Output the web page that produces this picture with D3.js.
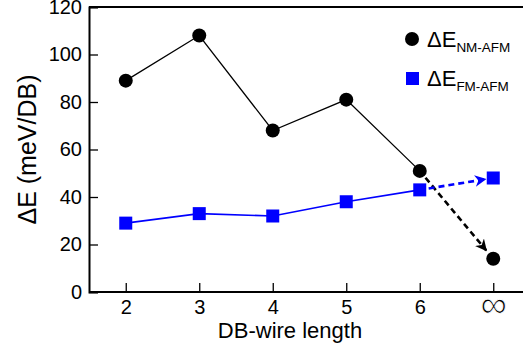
<!DOCTYPE html>
<html><head><meta charset="utf-8">
<script src="https://cdn.jsdelivr.net/npm/d3@7"></script>
<style>body{margin:0;background:#fff}svg{display:block}text{font-family:"Liberation Sans",Arial,sans-serif}</style>
</head><body>
<svg id="c" width="523" height="350"></svg>
<script>
const categories = ["2","3","4","5","6","∞"];
const nmAfm = [89, 108, 68, 81, 51, 14];
const fmAfm = [29, 33, 32, 38, 43, 48];
const yTicks = [0, 20, 40, 60, 80, 100, 120];

const svg = d3.select("#c");
const L = 89, T = 7, B = 292, R = 530;
const x = d3.scaleLinear().domain([-0.5, 5.5]).range([L, L + 6 * 73.5]);
const y = d3.scaleLinear().domain([0, 120]).range([B, T]);

svg.append("line").attr("x1", L).attr("x2", R).attr("y1", T).attr("y2", T).attr("stroke", "#000").attr("stroke-width", 2);

const ya = svg.append("g").attr("transform", `translate(${L},0)`)
  .call(d3.axisLeft(y).tickValues(yTicks).tickSize(-9).tickPadding(7));
ya.select(".domain").attr("stroke-width", 2);
ya.selectAll(".tick line").attr("stroke-width", 1.3);
ya.selectAll("text").attr("font-size", 20).attr("font-family", "Liberation Sans, Arial, sans-serif").attr("fill", "#000");

const xa = svg.append("g").attr("transform", `translate(0,${B})`)
  .call(d3.axisBottom(x).tickValues(d3.range(categories.length)).tickFormat(i => categories[i]).tickSize(-9).tickPadding(8));
xa.select(".domain").attr("d", `M${L},0H${R}`).attr("stroke-width", 2);
xa.selectAll(".tick line").attr("stroke-width", 1.3);
xa.selectAll("text").attr("font-size", 20).attr("font-family", "Liberation Sans, Arial, sans-serif").attr("fill", "#000");
xa.selectAll(".tick").filter(d => d === 5).select("text")
  .attr("font-family", "DejaVu Sans, sans-serif").attr("font-size", 37).attr("dy", "0.45em")
  .attr("stroke", "#fff").attr("stroke-width", 0.9);

svg.append("text").attr("transform", `translate(36,${(T + B) / 2}) rotate(-90)`).attr("text-anchor", "middle")
  .attr("font-size", 25).text("ΔE (meV/DB)");
svg.append("text").attr("x", 290).attr("y", 338).attr("text-anchor", "middle").attr("font-size", 22).text("DB-wire length");

const defs = svg.append("defs");
[["ab", "#000"], ["ablue", "#0000ff"]].forEach(([id, c]) => {
  defs.append("marker").attr("id", id).attr("viewBox", "0 0 10 10").attr("refX", 9).attr("refY", 5)
    .attr("markerWidth", 4.5).attr("markerHeight", 4.5).attr("markerUnits", "strokeWidth").attr("orient", "auto")
    .append("path").attr("d", "M0,0L10,5L0,10L3,5Z").attr("fill", c);
});

const n = categories.length - 1;
const line = d3.line().x((d, i) => x(i)).y(d => y(d));
svg.append("path").datum(nmAfm.slice(0, n)).attr("d", line).attr("fill", "none").attr("stroke", "#000").attr("stroke-width", 1.3);
svg.append("path").datum(fmAfm.slice(0, n)).attr("d", line).attr("fill", "none").attr("stroke", "#0000ff").attr("stroke-width", 1.6);

function arrow(vals, color, mk, shrink) {
  const x1 = x(n - 1), y1 = y(vals[n - 1]), x2 = x(n), y2 = y(vals[n]);
  const dx = x2 - x1, dy = y2 - y1, len = Math.hypot(dx, dy);
  const s0 = 9 / len, s1 = (len - shrink) / len;
  svg.append("line").attr("x1", x1 + dx * s0).attr("y1", y1 + dy * s0).attr("x2", x1 + dx * s1).attr("y2", y1 + dy * s1)
    .attr("stroke", color).attr("stroke-width", 2.6).attr("stroke-dasharray", "6,4").attr("marker-end", `url(#${mk})`);
}
arrow(nmAfm, "#000", "ab", 11);
arrow(fmAfm, "#0000ff", "ablue", 8);

svg.selectAll(".dot").data(nmAfm).enter().append("circle").attr("cx", (d, i) => x(i)).attr("cy", d => y(d)).attr("r", 7).attr("fill", "#000");
svg.selectAll(".sq").data(fmAfm).enter().append("rect").attr("x", (d, i) => x(i) - 6.5).attr("y", d => y(d) - 6.5)
  .attr("width", 13).attr("height", 13).attr("fill", "#0000ff");

// legend
svg.append("circle").attr("cx", 412).attr("cy", 39).attr("r", 7).attr("fill", "#000");
svg.append("rect").attr("x", 406).attr("y", 72).attr("width", 13).attr("height", 13).attr("fill", "#0000ff");
const t1 = svg.append("text").attr("x", 427).attr("y", 47).attr("font-size", 22);
t1.append("tspan").text("ΔE");
t1.append("tspan").attr("font-size", 13.5).attr("dy", 5).text("NM-AFM");
const t2 = svg.append("text").attr("x", 427).attr("y", 86).attr("font-size", 22);
t2.append("tspan").text("ΔE");
t2.append("tspan").attr("font-size", 13.5).attr("dy", 5).text("FM-AFM");
</script>
</body></html>
